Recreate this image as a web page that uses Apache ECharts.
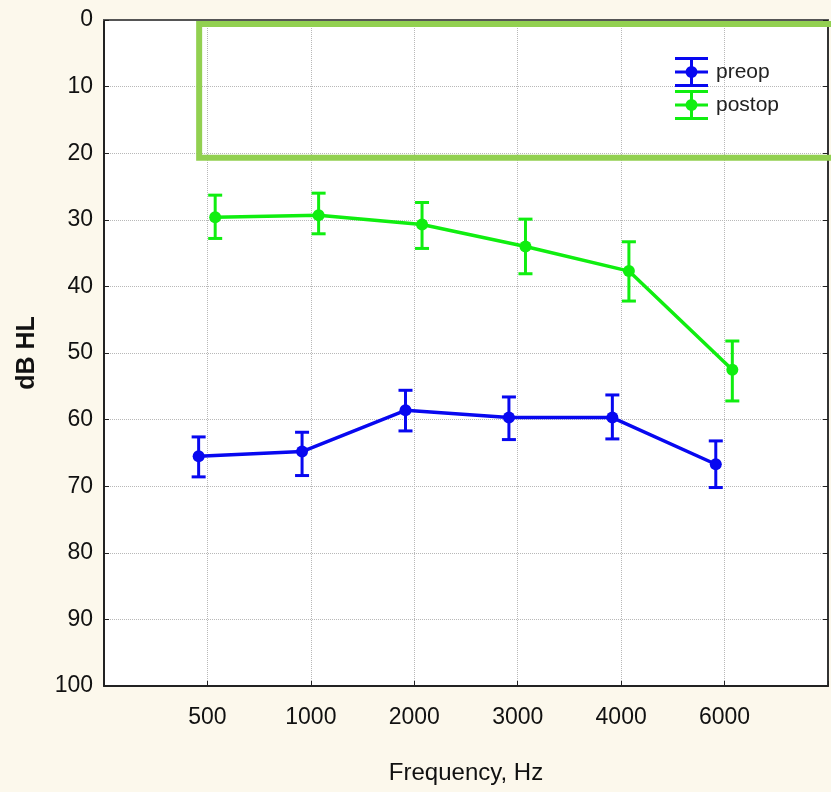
<!DOCTYPE html>
<html><head><meta charset="utf-8">
<script src="https://cdn.jsdelivr.net/npm/echarts@6/dist/echarts.min.js"></script>
<style>html,body{margin:0;padding:0;background:#fcf8ec;} #c{width:831px;height:792px;}</style>
</head><body><div id="c"></div>
<script>
// Frequencies (categories)
const categories = ['500', '1000', '2000', '3000', '4000', '6000'];
// Preop (dB HL): mean and error bar limits
const preopMean = [65.5, 64.8, 58.6, 59.7, 59.7, 66.7];
const preopLow  = [62.6, 61.9, 55.6, 56.6, 56.3, 63.2];
const preopHigh = [68.6, 68.4, 61.7, 63.0, 62.9, 70.2];
// Postop (dB HL)
const postopMean = [29.6, 29.3, 30.7, 34.0, 37.7, 52.5];
const postopLow  = [26.3, 26.0, 27.4, 29.9, 33.3, 48.2];
const postopHigh = [32.8, 32.1, 34.3, 38.1, 42.2, 57.2];

const FONT = '"Liberation Sans", Arial, sans-serif';
const BLUE = '#0808f0';
const GREEN = '#10ee10';
const PRE_OFF = -0.085, POST_OFF = 0.075;

const pos = (i, off) => i + 1 + off;

function errRender(params, api) {
  const x = api.value(0);
  const lo = api.coord([x, api.value(1)]);
  const hi = api.coord([x, api.value(2)]);
  const half = 7;
  const style = { stroke: api.visual('color'), lineWidth: 3 };
  return { type: 'group', children: [
    { type: 'line', shape: { x1: lo[0], y1: lo[1], x2: hi[0], y2: hi[1] }, style },
    { type: 'line', shape: { x1: lo[0] - half, y1: lo[1], x2: lo[0] + half, y2: lo[1] }, style },
    { type: 'line', shape: { x1: hi[0] - half, y1: hi[1], x2: hi[0] + half, y2: hi[1] }, style }
  ]};
}

function boxRender(params, api) {
  const a = api.coord([api.value(0), api.value(1)]);
  const b = api.coord([api.value(2), api.value(3)]);
  return { type: 'rect', shape: { x: a[0], y: a[1], width: b[0] - a[0], height: b[1] - a[1] },
    style: { fill: 'none', stroke: '#92d050', lineWidth: 6 } };
}

const iconPath = 'path://M0,0H33V3H0Z M0,27H33V30H0Z M15,0H18V30H15Z M0,13.5H33V16.5H0Z M10.5,15A6,6 0 1,1 22.5,15A6,6 0 1,1 10.5,15Z';

const axisLineDark = { show: true, onZero: false, lineStyle: { color: '#222', width: 2 } };

const chart = echarts.init(document.getElementById('c'));
chart.setOption({
  backgroundColor: '#fcf8ec',
  animation: false,
  textStyle: { fontFamily: FONT },
  grid: { left: 104, right: 3, top: 20, bottom: 106, show: true, backgroundColor: '#ffffff', borderWidth: 0 },
  legend: {
    orient: 'vertical', left: 675, top: 57, itemWidth: 33, itemHeight: 30, itemGap: 3, padding: 0,
    textStyle: { fontSize: 21, color: '#222', fontFamily: FONT, padding: [0, 0, 0, 3] },
    data: [
      { name: 'preop', icon: iconPath, itemStyle: { color: BLUE } },
      { name: 'postop', icon: iconPath, itemStyle: { color: GREEN } }
    ]
  },
  xAxis: [{
    type: 'value', min: 0, max: 7, interval: 1, position: 'bottom',
    axisLine: axisLineDark,
    axisTick: { show: true, inside: true, length: 5, lineStyle: { color: '#222' } },
    axisLabel: { formatter: v => categories[v - 1] || '', fontSize: 23, color: '#111', margin: 20, fontFamily: FONT },
    splitLine: { show: true, lineStyle: { type: 'dotted', color: '#b8b8b8', width: 1 } },
    name: 'Frequency, Hz', nameLocation: 'middle', nameGap: 75,
    nameTextStyle: { fontSize: 24, color: '#111', fontFamily: FONT }
  }, {
    type: 'value', min: 0, max: 7, interval: 1, position: 'top',
    axisLine: { show: true, onZero: false, lineStyle: { color: '#555', width: 2 } },
    axisTick: { show: false }, axisLabel: { show: false }, splitLine: { show: false }
  }],
  yAxis: [{
    type: 'value', inverse: true, min: 0, max: 100, interval: 10, position: 'left',
    axisLine: axisLineDark,
    axisTick: { show: true, inside: true, length: 5, lineStyle: { color: '#222' } },
    axisLabel: { fontSize: 23, color: '#111', margin: 11, fontFamily: FONT },
    splitLine: { show: true, lineStyle: { type: 'dotted', color: '#b8b8b8', width: 1 } },
    name: 'dB HL', nameLocation: 'middle', nameGap: 64,
    nameTextStyle: { fontSize: 25, fontWeight: 'bold', color: '#111', fontFamily: FONT }
  }, {
    type: 'value', inverse: true, min: 0, max: 100, interval: 10, position: 'right',
    axisLine: { show: true, onZero: false, lineStyle: { color: '#333', width: 2 } },
    axisTick: { show: true, inside: true, length: 5, lineStyle: { color: '#222' } },
    axisLabel: { show: false }, splitLine: { show: false }
  }],
  series: [
    {
      name: 'box', type: 'custom', clip: false, z: 2, silent: true,
      data: [[0.92, 0.6, 7.3, 20.7]],
      encode: { x: [0, 2], y: [1, 3] }, renderItem: boxRender
    },
    {
      name: 'preop', type: 'line', z: 4,
      data: preopMean.map((v, i) => [pos(i, PRE_OFF), v]),
      symbol: 'circle', symbolSize: 12,
      itemStyle: { color: BLUE }, lineStyle: { color: BLUE, width: 3.5 }
    },
    {
      name: 'preop', type: 'custom', z: 3,
      data: preopMean.map((v, i) => [pos(i, PRE_OFF), preopLow[i], preopHigh[i]]),
      encode: { x: 0, y: [1, 2] }, renderItem: errRender, itemStyle: { color: BLUE }
    },
    {
      name: 'postop', type: 'line', z: 4,
      data: postopMean.map((v, i) => [pos(i, POST_OFF), v]),
      symbol: 'circle', symbolSize: 12,
      itemStyle: { color: GREEN }, lineStyle: { color: GREEN, width: 3.5 }
    },
    {
      name: 'postop', type: 'custom', z: 3,
      data: postopMean.map((v, i) => [pos(i, POST_OFF), postopLow[i], postopHigh[i]]),
      encode: { x: 0, y: [1, 2] }, renderItem: errRender, itemStyle: { color: GREEN }
    }
  ]
});
</script>
</body></html>
